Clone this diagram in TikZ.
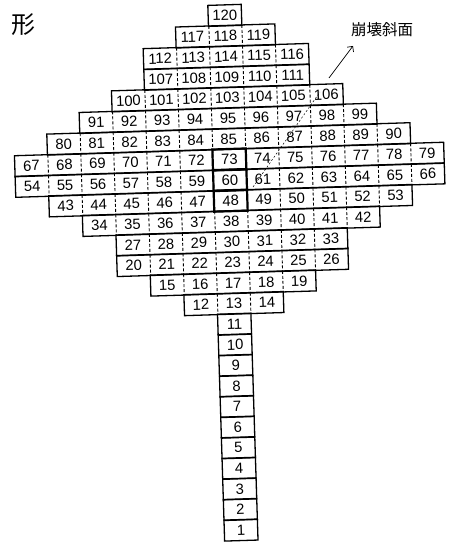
\documentclass[tikz,border=0pt]{standalone}
\usepackage{fontspec}
\setmainfont{Liberation Sans}
\newfontfamily\jpfont{Noto Sans CJK JP}
\usetikzlibrary{arrows.meta}
\begin{document}
\begin{tikzpicture}[x=1pt,y=1pt,
    cell/.style={minimum width=33pt,minimum height=20.6pt,inner sep=0pt,font=\fontsize{14.8}{14.8}\selectfont},
    rowline/.style={line width=1.3pt,line join=miter},
    divider/.style={line width=0.9pt,dash pattern=on 3pt off 2pt},
    markbox/.style={line width=2.2pt,line join=miter}]
    \useasboundingbox (0,0) rectangle (452,545);
    \node[font=\jpfont\fontsize{24}{24}\selectfont] (kei) at (24,520) {形};
    \node[font=\jpfont\fontsize{15.5}{15.5}\selectfont] (houkai) at (382,515) {崩壊斜面};
    \begin{scope}[rotate around={1.8:(230,365)},shift={(213.5,540)},x=33pt,y=-20.6pt,transform shape]
        \foreach \r/\first/\c/\n in {0/120/0/1,1/117/-1/3,2/112/-2/5,3/107/-2/5,4/100/-3/7,
            5/91/-4/9,6/80/-5/11,7/67/-6/13,8/54/-6/13,9/43/-5/11,10/34/-4/9,11/27/-3/7,
            12/20/-3/7,13/15/-2/5,14/12/-1/3,15/11/0/1,16/10/0/1,17/9/0/1,18/8/0/1,19/7/0/1,
            20/6/0/1,21/5/0/1,22/4/0/1,23/3/0/1,24/2/0/1,25/1/0/1}{
            \pgfmathtruncatemacro\last{\first+\n-1}
            \foreach \k in {1,...,\n}{
                \pgfmathtruncatemacro\num{\first+\k-1}
                \node[cell] (c\num) at (\c+\k-0.5,\r+0.5) {\num};
            }
            \ifnum\n>1
                \pgfmathtruncatemacro\stop{\last-1}
                \foreach \num in {\first,...,\stop}
                    \draw[divider] (c\num.north east) -- (c\num.south east);
            \fi
            \draw[rowline] (c\first.north west) -- (c\last.north east) -- (c\last.south east) -- (c\first.south west) -- cycle;
        }
        \foreach \num in {73,60,48}
            \draw[markbox] (c\num.north west) -- (c\num.north east) -- (c\num.south east) -- (c\num.south west) -- cycle;
    \end{scope}
    \coordinate (slip0) at (253,358);
    \coordinate (slip1) at (320,453);
    \coordinate (slip2) at (329,467);
    \coordinate (slip3) at (353,499);
    \draw[line width=0.5pt,dash pattern=on 2pt off 2pt] (slip0) -- (slip1);
    \draw[line width=0.7pt,-{Straight Barb[length=4pt]}] (slip2) -- (slip3);
\end{tikzpicture}
\end{document}
